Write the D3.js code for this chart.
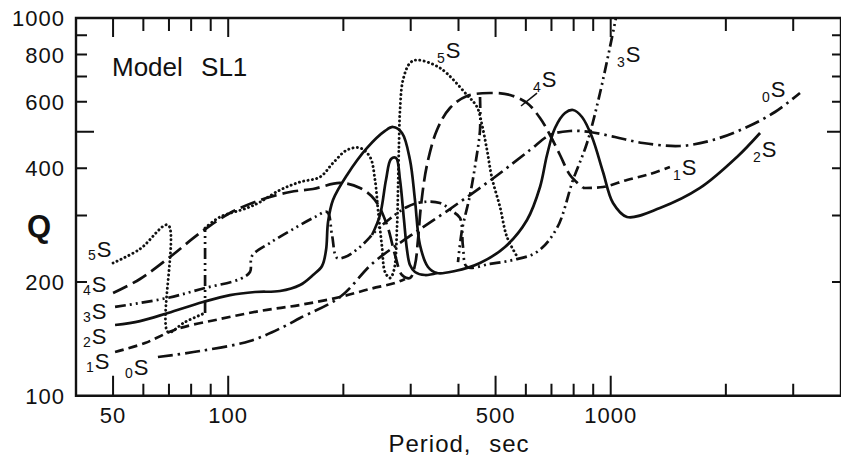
<!DOCTYPE html>
<html>
<head>
<meta charset="utf-8">
<script src="https://cdn.jsdelivr.net/npm/d3@7"></script>
<style>
  body { margin: 0; background: #fff; }
  svg { display: block; }
</style>
</head>
<body>
<div id="chart-area"></div>
<script>
// margens do quadro
const MARGIN = { LEFT: 76, RIGHT: 0, TOP: 18, BOTTOM: 65.3 }
const WIDTH = 841
const HEIGHT = 461
const FONT = "Liberation Sans, Arial, sans-serif"
const INK = "#111"

// ticks dos eixos
const periodTicks = [50, 60, 70, 80, 90, 100, 200, 300, 400, 500, 600, 700, 800, 900, 1000, 2000, 3000]
const periodLong = [50, 100, 500, 1000]
const periodLabels = [50, 100, 500, 1000]
const qTicks = [200, 300, 400, 500, 600, 700, 800, 900]
const qLong = [500]
const qLabels = [100, 200, 400, 600, 800, 1000]

// curvas Q(periodo) de cada modo, em pedacos [periodo, Q]
const mode0S = [
  [[65.5, 126.6], [84.4, 131.3], [114, 139.6], [139.1, 152.0], [154.1, 160.6], [196, 182.5],
   [239.1, 224.6], [298.7, 264.8], [373.3, 308.3], [498.3, 379.4], [615.2, 447.3], [693.9, 490],
   [782.7, 502.2], [882.8, 499.1], [1026, 484.1], [1214, 466.8], [1518, 458.3], [1851, 475.4],
   [2272, 514.6], [2688, 563.8], [3125, 633.0]]
]
const mode1S = [
  [[50.6, 130.5], [60.6, 137.9], [73.5, 150.2], [95.2, 159.6], [121.1, 167.6], [154.1, 173.9],
   [196, 182.5], [234.8, 191.7], [273, 198.8], [289.9, 203.7]],
  [[846.4, 354.8], [954.7, 356.9], [1103, 372.5], [1267, 386.4], [1428, 403.3]]
]
const mode2S = [
  [[50.6, 153.9], [58.8, 157.6], [69.6, 165.6], [85.9, 177.0], [101.1, 184.7], [117.5, 188.2],
   [136.6, 189.3], [154.1, 196.4], [166.6, 208.7], [175.9, 220.5], [180.2, 243.1], [182.4, 288.4],
   [187.9, 329.6], [204.5, 384.0], [230.7, 452.8], [257.0, 502.2], [269.7, 514.6], [284.7, 496.1],
   [298.7, 420.9], [307.8, 329.6], [317.2, 250.6], [332.9, 219.2], [351.4, 211.3], [391.6, 213.9],
   [455.3, 224.6], [529.2, 247.6], [604.2, 291.9], [653.4, 356.9], [681.5, 433.8], [715.1, 511.5],
   [759.5, 560.4], [796.9, 570.7], [841.3, 546.9], [893.5, 484.1], [954.7, 391.1], [1014, 323.6],
   [1103, 297.3], [1345, 314.0], [1712, 354.8], [2139, 428.6], [2457, 496.1]],
  [[237.6, 266.4], [249.4, 300.9], [258.5, 372.5], [266.5, 423.4], [274.6, 426.0], [281.3, 372.5],
   [288.1, 291.9], [293.4, 243.1], [298.7, 221.8], [307.8, 212.6], [326.9, 208.7], [351.4, 211.3]]
]
const mode3S = [
  [[50.6, 171.8], [69.2, 181.4], [87.0, 192.8], [107.4, 203.7], [114.0, 212.6], [115.4, 234.4],
   [128.6, 253.8], [149.5, 278.0], [168.6, 297.3], [181.3, 306.5], [186.8, 266.4], [192.5, 231.5],
   [202.0, 232.9], [221.1, 247.6], [249.4, 279.7], [293.4, 316.0], [323.0, 325.6], [357.8, 323.6],
   [384.6, 308.3], [403.6, 295.5], [411.0, 247.6], [421.0, 219.2], [483.5, 223.3], [555.3, 228.7],
   [641.7, 240.2], [723.8, 278.0], [796.9, 372.5], [867.0, 466.8], [937.6, 633.0], [1032, 1000]],
  [[87.0, 165.6], [87.0, 278.0]],
  [[455.3, 617.7], [455.3, 505.3], [444.5, 420.9], [428.7, 340.0], [408.6, 274.6], [398.8, 225.9]]
]
const mode4S = [
  [[50.0, 187.0], [58.8, 203.7], [70.4, 232.9], [84.4, 269.7], [101.1, 304.6], [121.1, 329.6],
   [145.1, 346.2], [166.6, 352.6], [196.0, 365.8], [221.1, 354.8], [242.0, 329.6], [260.1, 283.1],
   [273.0, 235.8], [284.7, 208.7], [298.7, 204.9], [307.8, 221.8], [313.4, 258.4], [319.3, 319.8],
   [330.9, 408.2], [351.4, 505.3], [380.0, 577.7], [421.0, 621.5], [483.5, 633.0], [545.4, 625.3],
   [604.2, 595.6], [653.4, 543.6], [693.9, 490.0], [737.0, 433.8], [782.7, 384.0], [846.4, 354.8]]
]
const mode5S = [
  [[50.0, 224.6], [58.8, 244.6], [69.6, 283.1], [69.6, 147.5], [77.1, 156.7], [87.0, 165.6]],
  [[87.0, 278.0], [95.2, 297.3], [112.0, 314.0], [121.1, 325.6], [136.6, 350.5], [154.1, 367.9],
   [173.8, 379.4], [187.9, 413.2], [204.5, 447.3], [221.1, 452.8], [234.8, 428.6], [242.0, 372.5],
   [246.4, 310.2], [252.4, 247.6], [257.0, 212.6], [264.9, 204.9], [271.3, 215.2], [276.3, 279.7],
   [278.0, 356.9], [279.6, 466.8], [281.3, 570.7], [286.4, 685.4], [298.7, 760.0], [311.5, 774.1],
   [357.8, 737.3], [421.0, 625.3], [447.2, 581.2], [460.8, 521.0], [474.9, 447.3], [489.3, 377.1],
   [513.5, 316.0], [535.6, 263.2], [572.3, 231.5]]
]

// rotulos dos modos (inicio do indice, linha de base do S) em [periodo, Q]
const leftLabels = [
  ["5", [43.0, 232.9]], ["4", [41.7, 188.0]], ["3", [41.7, 160.0]],
  ["2", [41.7, 137.0]], ["1", [42.5, 117.8]], ["0", [53.7, 113.5]]
]
const rightLabels = [
  ["5", [351.4, 783.6]], ["4", [626.4, 656.6]], ["3", [1039, 764.7]],
  ["0", [2487, 617.7]], ["1", [1455, 384.0]], ["2", [2355, 428.6]]
]
const leader4S = [[641.7, 633.0], [582.7, 584.8]]

// estilos de linha por modo
const modes = [
  { data: mode0S, dash: "15,5,2.5,5" },
  { data: mode1S, dash: "9,5" },
  { data: mode2S, dash: null },
  { data: mode3S, dash: "11,4,2,4,2,4" },
  { data: mode4S, dash: "16,6" },
  { data: mode5S, dash: "0.1,4.3", cap: "round" }
]

const svg = d3.select("#chart-area").append("svg")
  .attr("width", WIDTH)
  .attr("height", HEIGHT)

// escalas log
const x = d3.scaleLog().domain([40, 4000]).range([MARGIN.LEFT, WIDTH - MARGIN.RIGHT])
const y = d3.scaleLog().domain([100, 1000]).range([HEIGHT - MARGIN.BOTTOM, MARGIN.TOP])

const x0 = x.range()[0], x1 = x.range()[1]
const yB = y.range()[0], yT = y.range()[1]

svg.append("clipPath").attr("id", "plot")
  .append("rect")
  .attr("x", x0).attr("y", yT).attr("width", x1 - x0).attr("height", yB - yT)

// quadro (como path, sem preenchimento)
svg.append("path")
  .attr("d", `M${x0},${yT}H${x1}V${yB}H${x0}Z`)
  .attr("fill", "none").attr("stroke", INK).attr("stroke-width", 2.4)

// ticks para dentro, nos quatro lados (um path por lado)
const tickPath = (vals, at, len) => vals.map(d => at(d, len(d))).join(" ")
const ticks = [
  tickPath(periodTicks, (d, l) => `M${x(d)},${yB}V${yB - l}`, d => periodLong.includes(d) ? 20 : 12),
  tickPath(periodTicks, (d, l) => `M${x(d)},${yT}V${yT + l}`, d => periodLong.includes(d) ? 19 : 13),
  tickPath(qTicks, (d, l) => `M${x0},${y(d)}H${x0 + l}`, d => qLong.includes(d) ? 18 : 11),
  tickPath(qTicks, (d, l) => `M${x1},${y(d)}H${x1 - l}`, d => qLong.includes(d) ? 14 : 9)
]
ticks.forEach(t => {
  svg.append("path")
    .attr("d", t)
    .attr("fill", "none")
    .attr("stroke", INK)
    .attr("stroke-width", 2)
})

// rotulos dos eixos
svg.append("g").selectAll("text").data(periodLabels).join("text")
  .attr("x", d => x(d)).attr("y", yB + 27)
  .attr("text-anchor", "middle")
  .attr("font-family", FONT).attr("font-size", 22).attr("letter-spacing", 1)
  .attr("fill", INK)
  .text(d => d)
svg.append("g").selectAll("text").data(qLabels).join("text")
  .attr("x", x0 - 11).attr("y", d => y(d) + 8)
  .attr("text-anchor", "end")
  .attr("font-family", FONT).attr("font-size", 22).attr("letter-spacing", 1)
  .attr("fill", INK)
  .text(d => d)

// titulos
svg.append("text")
  .attr("x", 459).attr("y", 452)
  .attr("text-anchor", "middle")
  .attr("font-family", FONT).attr("font-size", 24)
  .attr("letter-spacing", 1).attr("word-spacing", 10)
  .attr("fill", INK)
  .text("Period, sec")

svg.append("text")
  .attr("x", 39).attr("y", 237)
  .attr("text-anchor", "middle")
  .attr("font-family", FONT).attr("font-size", 31).attr("font-weight", "bold")
  .attr("fill", INK)
  .text("Q")

svg.append("text")
  .attr("x", 112).attr("y", 76)
  .attr("font-family", FONT).attr("font-size", 26).attr("word-spacing", 11)
  .attr("fill", INK)
  .text("Model SL1")

// curvas
const line = d3.line()
  .x(d => x(d[0]))
  .y(d => y(d[1]))
  .curve(d3.curveCatmullRom.alpha(0.5))

const curves = svg.append("g").attr("clip-path", "url(#plot)")
modes.forEach(m => {
  m.data.forEach(piece => {
    curves.append("path")
      .attr("d", line(piece))
      .attr("fill", "none")
      .attr("stroke", INK)
      .attr("stroke-width", m.cap ? 2.9 : 2.7)
      .attr("stroke-linecap", m.cap || "butt")
      .attr("stroke-dasharray", m.dash)
  })
})

// linha guia do rotulo 4S
svg.append("path")
  .attr("d", d3.line().x(d => x(d[0])).y(d => y(d[1]))(leader4S))
  .attr("stroke", INK).attr("stroke-width", 1.6)

// rotulos dos modos: indice pequeno abaixo, S grande
function modeLabel(list, big, small, drop) {
  list.forEach(([n, p]) => {
    const t = svg.append("text")
      .attr("x", x(p[0])).attr("y", y(p[1]))
      .attr("font-family", FONT).attr("fill", INK)
    t.append("tspan").attr("font-size", small).attr("dy", drop).text(n)
    t.append("tspan").attr("font-size", big).attr("dy", -drop).attr("dx", 1).text("S")
  })
}
modeLabel(leftLabels, 22, 14, 3)
modeLabel(rightLabels, 22, 14, 5)
</script>
</body>
</html>
